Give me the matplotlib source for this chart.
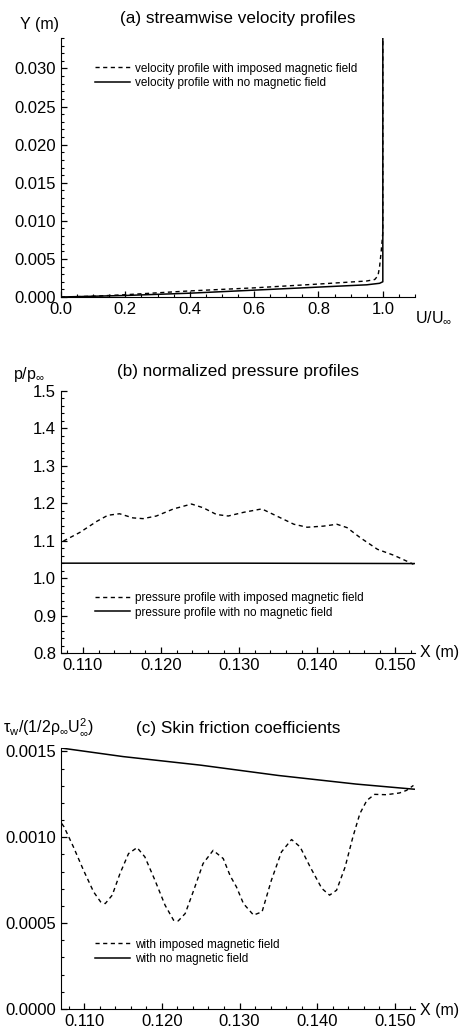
"""
Velocity, pressure and skin friction profiles with / without imposed magnetic field
"""

import matplotlib
matplotlib.use("Agg")
import matplotlib.pyplot as plt
from matplotlib.ticker import MultipleLocator

plt.rcParams['font.family'] = ['Liberation Sans', 'DejaVu Sans']
plt.rcParams['mathtext.fontset'] = 'custom'
plt.rcParams['mathtext.rm'] = 'Liberation Sans'
plt.rcParams['mathtext.it'] = 'Liberation Sans:italic'

# (a) streamwise velocity profiles
u_mag = [0.0, 0.1, 0.2, 0.4, 0.6, 0.8, 0.95, 0.975, 0.985, 0.99, 0.995, 1.0, 1.0]
y_mag = [0.0, 0.0001, 0.0003, 0.0008, 0.0012, 0.0017, 0.0021, 0.0023, 0.0028, 0.0040, 0.0060, 0.0085, 0.034]
u_nomag = [0.0, 0.2, 0.4, 0.6, 0.8, 0.95, 0.99, 1.0, 1.0]
y_nomag = [0.0, 0.0002, 0.0005, 0.0009, 0.0013, 0.0016, 0.0018, 0.0020, 0.0345]

# (b) normalized pressure profiles
x_p_mag = [0.1075, 0.1096, 0.1118, 0.1132, 0.1147, 0.1164, 0.1177, 0.1194, 0.1216,
           0.1239, 0.1254, 0.1271, 0.1286, 0.1306, 0.1329, 0.1348, 0.1370, 0.1387,
           0.1408, 0.1425, 0.1438, 0.1455, 0.1477, 0.1498, 0.1517, 0.1523]
p_mag = [1.099, 1.122, 1.152, 1.168, 1.172, 1.161, 1.159, 1.166, 1.185,
         1.198, 1.188, 1.170, 1.166, 1.176, 1.185, 1.166, 1.144, 1.136,
         1.139, 1.144, 1.135, 1.108, 1.077, 1.061, 1.043, 1.037]
x_p_nomag = [0.1072, 0.1300, 0.1525]
p_nomag = [1.040, 1.040, 1.039]

# (c) skin friction coefficients
x_cf_mag = [0.1071, 0.1074, 0.1086, 0.1099, 0.1112, 0.1121, 0.1127, 0.1136, 0.1146, 0.1157,
            0.1168, 0.1178, 0.1191, 0.1204, 0.1215, 0.1221, 0.1230, 0.1241, 0.1253, 0.1266,
            0.1279, 0.1288, 0.1296, 0.1305, 0.1318, 0.1329, 0.1341, 0.1354, 0.1367, 0.1378,
            0.1391, 0.1406, 0.1416, 0.1425, 0.1436, 0.1446, 0.1455, 0.1464, 0.1474, 0.1489,
            0.1506, 0.1515, 0.1524]
cf_mag = [0.00108, 0.00106, 0.000944, 0.000808, 0.000682, 0.000624, 0.000614, 0.000663, 0.000789, 0.000905,
          0.00094, 0.000886, 0.00075, 0.000605, 0.000517, 0.000513, 0.000556, 0.000692, 0.000847, 0.000924,
          0.000876, 0.000775, 0.000711, 0.000614, 0.000547, 0.000566, 0.00075, 0.000915, 0.000987, 0.000944,
          0.000827, 0.000702, 0.000663, 0.000692, 0.000827, 0.001002, 0.001138, 0.001215, 0.00125, 0.001248,
          0.001258, 0.001273, 0.001302]
x_cf_nomag = [0.107, 0.115, 0.125, 0.135, 0.145, 0.1525]
cf_nomag = [0.00152, 0.00147, 0.00142, 0.00136, 0.00131, 0.00128]

W, H = 463, 1028
fig = plt.figure(figsize=(W/100, H/100), dpi=100)

def make_axes(top_px, bottom_px):
    left, right = 61, 415
    ax = fig.add_axes([left/W, 1-bottom_px/H, (right-left)/W, (bottom_px-top_px)/H])
    ax.spines['top'].set_visible(False)
    ax.spines['right'].set_visible(False)
    ax.tick_params(which='both', direction='in', labelsize=12, colors='black')
    ax.tick_params(which='major', length=4, width=0.9)
    ax.tick_params(which='minor', length=2.2, width=0.8)
    return ax

dash = (0, (3, 2.5))
legend_kw = dict(frameon=False, fontsize=8.5, handlelength=3.0, handletextpad=0.4,
                 borderpad=0, borderaxespad=0, labelspacing=0.2, loc='upper left')

# panel (a)
ax1 = make_axes(38, 297)
ax1.plot(u_mag, y_mag, color='black', lw=1.0, linestyle=dash, label='velocity profile with imposed magnetic field')
ax1.plot(u_nomag, y_nomag, color='black', lw=1.1, label='velocity profile with no magnetic field')
ax1.set_xlim(0, 1.1)
ax1.set_ylim(0, 0.034)
ax1.xaxis.set_major_locator(MultipleLocator(0.2))
ax1.xaxis.set_minor_locator(MultipleLocator(0.05))
ax1.yaxis.set_major_locator(MultipleLocator(0.005))
ax1.yaxis.set_minor_locator(MultipleLocator(0.001))
ax1.xaxis.set_major_formatter(lambda v, p: "{:.1f}".format(v) if v < 1.05 else "")
ax1.yaxis.set_major_formatter(lambda v, p: "{:.3f}".format(v))
ax1.legend(bbox_to_anchor=(0.095, 0.905), **legend_kw)
ax1.set_title("(a) streamwise velocity profiles", fontsize=12.3, pad=11)
fig.text(20/W, 1-25/H, "Y (m)", fontsize=11.5, va='center', ha='left')
fig.text(415/W, 1-318/H, r"U/U$_\infty$", fontsize=11.5, va='center', ha='left')

# panel (b)
ax2 = make_axes(391, 653)
ax2.plot(x_p_mag, p_mag, color='black', lw=1.0, linestyle=dash, label='pressure profile with imposed magnetic field')
ax2.plot(x_p_nomag, p_nomag, color='black', lw=1.1, label='pressure profile with no magnetic field')
ax2.set_xlim(0.1072, 0.1525)
ax2.set_ylim(0.8, 1.5)
ax2.xaxis.set_major_locator(MultipleLocator(0.01))
ax2.xaxis.set_minor_locator(MultipleLocator(0.002))
ax2.yaxis.set_major_locator(MultipleLocator(0.1))
ax2.yaxis.set_minor_locator(MultipleLocator(0.02))
ax2.xaxis.set_major_formatter(lambda v, p: "{:.3f}".format(v))
ax2.yaxis.set_major_formatter(lambda v, p: "{:.1f}".format(v))
ax2.legend(bbox_to_anchor=(0.095, 0.232), **legend_kw)
ax2.set_title("(b) normalized pressure profiles", fontsize=12.3, pad=11)
fig.text(13/W, 1-375/H, r"p/p$_\infty$", fontsize=11.5, va='center', ha='left')
fig.text(420/W, 1-652/H, "X (m)", fontsize=11.5, va='center', ha='left')

# panel (c)
ax3 = make_axes(748, 1009)
ax3.plot(x_cf_mag, cf_mag, color='black', lw=1.0, linestyle=dash, label='with imposed magnetic field')
ax3.plot(x_cf_nomag, cf_nomag, color='black', lw=1.1, label='with no magnetic field')
ax3.set_xlim(0.107, 0.1526)
ax3.set_ylim(0, 0.00152)
ax3.xaxis.set_major_locator(MultipleLocator(0.01))
ax3.xaxis.set_minor_locator(MultipleLocator(0.002))
ax3.yaxis.set_major_locator(MultipleLocator(0.0005))
ax3.yaxis.set_minor_locator(MultipleLocator(0.0001))
ax3.xaxis.set_major_formatter(lambda v, p: "{:.3f}".format(v))
ax3.yaxis.set_major_formatter(lambda v, p: "{:.4f}".format(v))
ax3.legend(bbox_to_anchor=(0.095, 0.27), **legend_kw)
ax3.set_title("(c) Skin friction coefficients", fontsize=12.3, pad=11)
fig.text(3/W, 1-727/H, r"$\mathrm{\tau_w/(1/2\rho_\infty U_\infty^2)}$", fontsize=11.5, va='center', ha='left')
fig.text(420/W, 1-1010/H, "X (m)", fontsize=11.5, va='center', ha='left')

fig.savefig("out.png", dpi=100)
